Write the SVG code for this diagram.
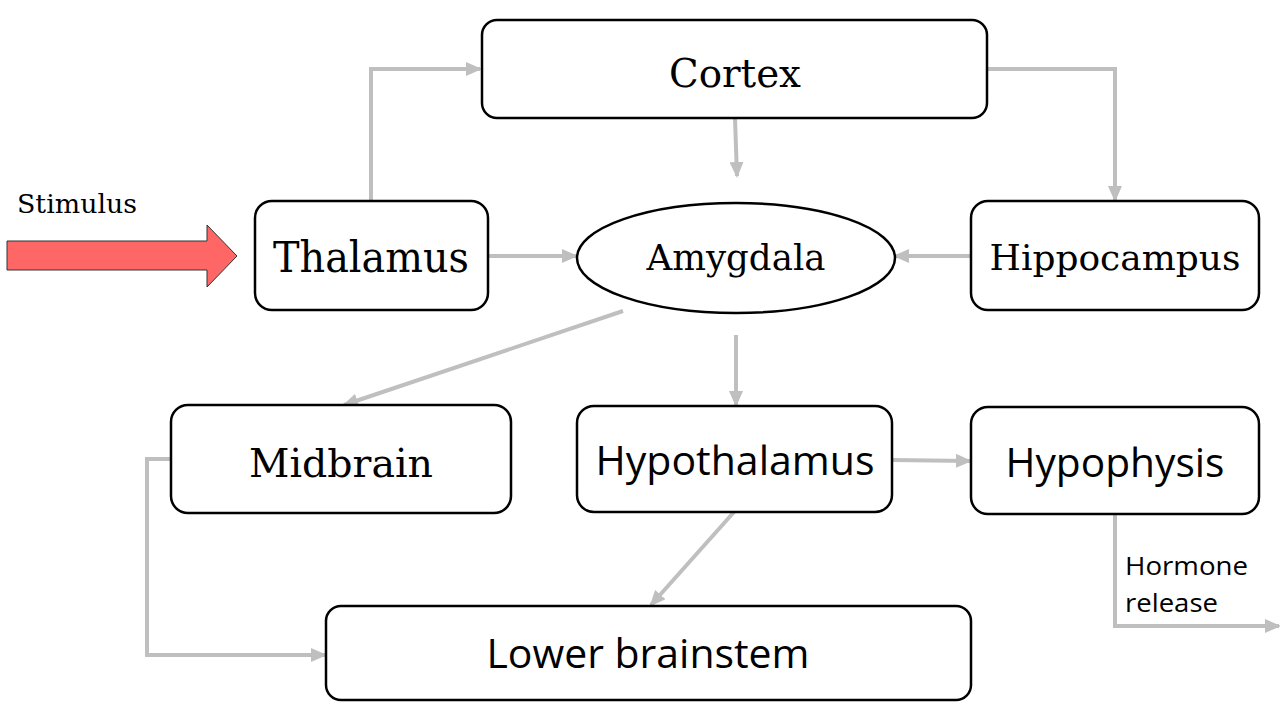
<svg xmlns="http://www.w3.org/2000/svg" width="1280" height="720" viewBox="0 0 1280 720">
<style>
.box{fill:#fff;stroke:#000;stroke-width:2.5}
.con{fill:none;stroke:#BFBFBF;stroke-width:4}
.serif{font-family:"DejaVu Serif","Liberation Serif",serif;fill:#000}
.sans{font-family:"Open Sans","Liberation Sans",sans-serif;fill:#000}
</style>
<defs>
<marker id="ah" markerUnits="userSpaceOnUse" markerWidth="16" markerHeight="14" refX="14" refY="7" orient="auto">
<path d="M0,0 L16,7 L0,14 Z" fill="#BFBFBF"/>
</marker>
</defs>
<rect width="1280" height="720" fill="#fff"/>
<g id="connectors">
<path class="con" d="M371,201 V69 H480" marker-end="url(#ah)"/>
<path class="con" d="M735,118 L737,176" marker-end="url(#ah)"/>
<path class="con" d="M987,69 H1115 V200" marker-end="url(#ah)"/>
<path class="con" d="M488,256 H576" marker-end="url(#ah)"/>
<path class="con" d="M971,256 H895" marker-end="url(#ah)"/>
<path class="con" d="M623,311 L344,405" marker-end="url(#ah)"/>
<path class="con" d="M736,335 V405" marker-end="url(#ah)"/>
<path class="con" d="M171,459 H147 V655 H325" marker-end="url(#ah)"/>
<path class="con" d="M892,460 L970,461" marker-end="url(#ah)"/>
<path class="con" d="M734,512 L651,605" marker-end="url(#ah)"/>
<path class="con" d="M1115,514 V626 H1279" marker-end="url(#ah)"/>
</g>
<g id="stimulus">
<text class="serif" x="17" y="213" font-size="26" textLength="120" lengthAdjust="spacingAndGlyphs">Stimulus</text>
<path d="M7,241 H207 V225 L237,256 L207,287 V270 H7 Z" fill="#FF6666" stroke="#333" stroke-width="1"/>
</g>
<g id="cortex">
<rect class="box" x="482" y="20" width="505" height="98" rx="15"/>
<text class="serif" x="735" y="87" font-size="40" text-anchor="middle" textLength="132" lengthAdjust="spacingAndGlyphs">Cortex</text>
</g>
<g id="thalamus">
<rect class="box" x="255" y="201" width="233" height="109" rx="17"/>
<text class="serif" x="371" y="272" font-size="42" text-anchor="middle" textLength="196" lengthAdjust="spacingAndGlyphs">Thalamus</text>
</g>
<g id="amygdala">
<ellipse class="box" cx="736" cy="258" rx="159" ry="55"/>
<text class="serif" x="736" y="270" font-size="35" text-anchor="middle" textLength="179" lengthAdjust="spacingAndGlyphs">Amygdala</text>
</g>
<g id="hippocampus">
<rect class="box" x="971" y="201" width="288" height="109" rx="17"/>
<text class="serif" x="1115" y="270" font-size="36" text-anchor="middle" textLength="251" lengthAdjust="spacingAndGlyphs">Hippocampus</text>
</g>
<g id="midbrain">
<rect class="box" x="171" y="405" width="340" height="108" rx="17"/>
<text class="serif" x="341" y="477" font-size="40" text-anchor="middle" textLength="184" lengthAdjust="spacingAndGlyphs">Midbrain</text>
</g>
<g id="hypothalamus">
<rect class="box" x="577" y="406" width="315" height="106" rx="17"/>
<text class="sans" x="735" y="475" font-size="40" text-anchor="middle" textLength="279" lengthAdjust="spacingAndGlyphs">Hypothalamus</text>
</g>
<g id="hypophysis">
<rect class="box" x="971" y="407" width="288" height="107" rx="17"/>
<text class="sans" x="1115" y="477" font-size="40" text-anchor="middle" textLength="219" lengthAdjust="spacingAndGlyphs">Hypophysis</text>
</g>
<g id="lower-brainstem">
<rect class="box" x="326" y="606" width="645" height="94" rx="15"/>
<text class="sans" x="648" y="668" font-size="40" text-anchor="middle" textLength="323" lengthAdjust="spacingAndGlyphs">Lower brainstem</text>
</g>
<g id="hormone-label">
<text class="sans" x="1125" y="575" font-size="26" textLength="123" lengthAdjust="spacingAndGlyphs">Hormone</text>
<text class="sans" x="1125" y="612" font-size="26" textLength="93" lengthAdjust="spacingAndGlyphs">release</text>
</g>
</svg>
